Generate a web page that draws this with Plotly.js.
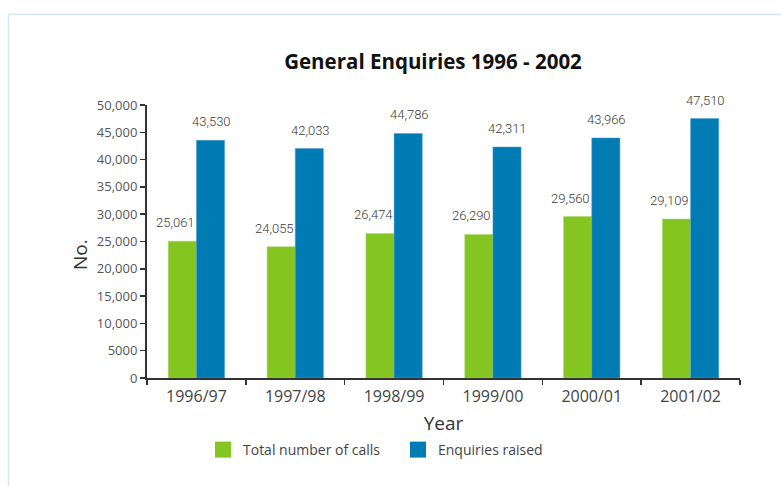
<!DOCTYPE html>
<html>
<head>
<meta charset="utf-8">
<script src="https://cdn.plot.ly/plotly-3.0.1.min.js"></script>
<style>
html,body{margin:0;padding:0;background:#fff;}
#chart{width:781px;height:486px;}
</style>
</head>
<body>
<div id="chart"></div>
<script>
const categories = ["1996/97", "1997/98", "1998/99", "1999/00", "2000/01", "2001/02"];
const totalCalls = [25061, 24055, 26474, 26290, 29560, 29109];
const enquiriesRaised = [43530, 42033, 44786, 42311, 43966, 47510];
const seriesNames = ["Total number of calls", "Enquiries raised"];
const yTickVals = [0, 5000, 10000, 15000, 20000, 25000, 30000, 35000, 40000, 45000, 50000];
const yTickText = ["0", "5000", "10,000", "15,000", "20,000", "25,000", "30,000", "35,000", "40,000", "45,000", "50,000"];

const green = "#84c521";
const blue = "#007bb3";
const labelFont = {family: "Roboto, Liberation Sans Narrow, sans-serif", size: 13, color: "#3a3a3a", weight: 300};

function fmt(v){ return v.toLocaleString("en-US"); }

const traces = [
  {type: "bar", x: categories, y: totalCalls, name: seriesNames[0], showlegend: false,
   marker: {color: green, line: {color: "#a9d66a", width: 0.5}}, hoverinfo: "x+y"},
  {type: "bar", x: categories, y: enquiriesRaised, name: seriesNames[1], showlegend: false,
   marker: {color: blue, line: {color: "#4fa3cc", width: 0.5}}, hoverinfo: "x+y"},
  {type: "scatter", mode: "markers", x: [null], y: [null], name: seriesNames[0],
   marker: {symbol: "square", size: 18, color: green}},
  {type: "scatter", mode: "markers", x: [null], y: [null], name: seriesNames[1],
   marker: {symbol: "square", size: 18, color: blue}}
];

const L = 147, R = 41, T = 105, B = 108;
const PW = 781 - L - R, PH = 486 - T - B;
const px = v => (v - L) / PW;
const py = v => (486 - B - v) / PH;

const annotations = [];
categories.forEach((c, i) => {
  annotations.push({x: c, y: totalCalls[i], text: fmt(totalCalls[i]), showarrow: false,
    xref: "x", yref: "y", yanchor: "bottom", xshift: -21, yshift: 9, font: labelFont});
  annotations.push({x: c, y: enquiriesRaised[i], text: fmt(enquiriesRaised[i]), showarrow: false,
    xref: "x", yref: "y", yanchor: "bottom", xshift: 15, yshift: 9, font: labelFont});
});
annotations.push({xref: "paper", yref: "paper", x: px(80), y: py(255), text: "No.", textangle: -90,
  showarrow: false, xanchor: "center", yanchor: "middle",
  font: {family: "Open Sans, Noto Sans, sans-serif", size: 19, color: "#333"}});

const layout = {
  width: 781, height: 486,
  margin: {l: L, r: R, t: T, b: B},
  paper_bgcolor: "#fff", plot_bgcolor: "#fff",
  font: {family: "Open Sans, Noto Sans, sans-serif", color: "#444"},
  title: {text: "General Enquiries 1996 - 2002", xref: "container", x: 433/781, xanchor: "center", y: 1 - 62/486, yanchor: "middle",
    font: {family: "Open Sans, Noto Sans, sans-serif", size: 20.5, color: "#111", weight: "bold"}},
  barmode: "group", bargap: 0.43, bargroupgap: 0,
  xaxis: {
    type: "category", tickson: "boundaries", ticks: "outside", ticklen: 5, tickwidth: 1.5, tickcolor: "#333",
    showline: true, linecolor: "#333", linewidth: 2, showgrid: false, zeroline: false,
    tickfont: {size: 16, color: "#444"}, ticklabelstandoff: 3,
    title: {text: "Year", font: {size: 19, color: "#333"}, standoff: 10}
  },
  yaxis: {
    range: [0, 50000], tickvals: yTickVals, ticktext: yTickText,
    ticks: "outside", ticklen: 5, tickwidth: 1.5, tickcolor: "#333",
    showline: true, linecolor: "#333", linewidth: 2, showgrid: false, zeroline: false,
    tickfont: {size: 13, color: "#555"}
  },
  showlegend: true,
  legend: {orientation: "h", x: px(203), y: py(450), xanchor: "left", yanchor: "middle",
    font: {size: 14, color: "#444"}, entrywidth: 150, entrywidthmode: "pixels", bgcolor: "rgba(0,0,0,0)"},
  annotations: annotations,
  shapes: [
    {type: "line", xref: "paper", yref: "paper", x0: px(8.5), x1: px(800), y0: py(14.5), y1: py(14.5),
     line: {color: "#d7e5f2", width: 1.5}},
    {type: "line", xref: "paper", yref: "paper", x0: px(8.5), x1: px(8.5), y0: py(14.5), y1: py(500),
     line: {color: "#d7e5f2", width: 1.5}}
  ]
};

Plotly.newPlot("chart", traces, layout, {displayModeBar: false, staticPlot: true});
</script>
</body>
</html>
